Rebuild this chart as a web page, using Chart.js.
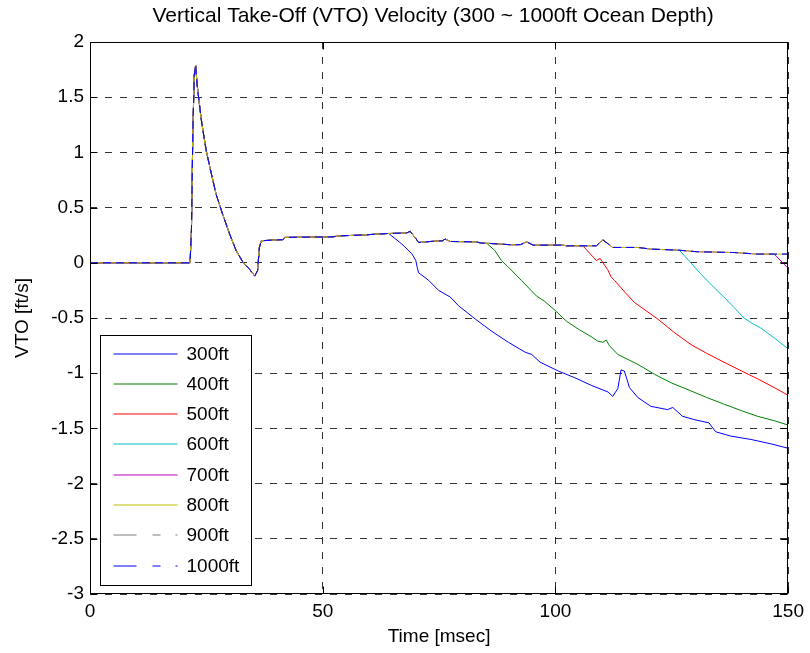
<!DOCTYPE html>
<html>
<head>
<meta charset="utf-8">
<title>VTO Velocity</title>
<script src="https://cdn.jsdelivr.net/npm/chart.js@4.4.1/dist/chart.umd.min.js"></script>
<style>
  html, body { margin: 0; padding: 0; background: #fff; }
  #wrap { width: 810px; height: 653px; }
</style>
</head>
<body>
<div id="wrap"><canvas id="vtoChart" width="810" height="653"></canvas></div>
<script>
// ─── DATA ─────────────────────────────────────────────────────
const chartTitle = 'Vertical Take-Off (VTO) Velocity (300 ~ 1000ft Ocean Depth)';
const xLabel = 'Time [msec]';
const yLabel = 'VTO [ft/s]';
const seriesNames = ['300ft', '400ft', '500ft', '600ft', '700ft', '800ft', '900ft', '1000ft'];

// common trace shared by every depth until it breaks away
const baseTime = [0, 21.5, 21.8, 22.1, 22.4, 22.7, 23.0, 23.3, 23.9, 24.3, 25.0, 26.0, 27.1, 28.5, 30.0, 31.4,
    32.8, 34.3, 35.4, 36.0, 36.4, 36.8, 41.4, 42.0, 52.0, 54.0, 57.8, 63.8, 68.0, 68.8, 70.0, 70.6, 73.1,
    75.8, 76.3, 77.4, 82.8, 84.2, 86.0, 90.6, 92.5, 93.8, 95.2, 101.6, 102.4, 108.8, 110.2, 112.3, 117.7,
    120.5, 126.3, 130.5, 138.4, 143.4, 150];
const baseVto = [0, 0, 0.3, 1.2, 1.70, 1.79, 1.62, 1.51, 1.30, 1.19, 1.01, 0.82, 0.62, 0.44, 0.26, 0.11,
    0.01, -0.06, -0.12, -0.07, 0.14, 0.20, 0.21, 0.23, 0.235, 0.245, 0.25, 0.265, 0.27, 0.285, 0.22, 0.184, 0.193,
    0.20, 0.215, 0.193, 0.19, 0.178, 0.175, 0.163, 0.165, 0.19, 0.16, 0.16, 0.154, 0.154, 0.208, 0.139, 0.139,
    0.124, 0.115, 0.10, 0.093, 0.079, 0.079];

// tails after each depth leaves the common trace
const tail300Time = [64.2, 67.0, 69.2, 70.0, 70.3, 70.6, 72.8, 74.9, 77.4, 79.2, 82.8, 86.3, 89.9, 93.5, 94.9,
    96.7, 100.6, 104.1, 107.7, 111.3, 112.3, 113.4, 114.1, 114.8, 115.4, 115.9, 117.7, 120.5, 124.1, 125.2,
    127.3, 129.8, 133.0, 134.4, 137.7, 142.0, 146.3, 150];
const tail300Vto = [0.265, 0.17, 0.08, 0.02, -0.04, -0.09, -0.16, -0.25, -0.31, -0.39, -0.51, -0.62, -0.72, -0.81, -0.83,
    -0.90, -0.98, -1.04, -1.11, -1.17, -1.21, -1.14, -0.97, -0.98, -1.06, -1.13, -1.22, -1.30, -1.33, -1.31,
    -1.39, -1.42, -1.45, -1.53, -1.57, -1.60, -1.64, -1.68];

const tail400Time = [85.2, 87.0, 88.4, 89.9, 92.7, 95.9, 97.7, 99.9, 102.4, 104.9, 107.7, 109.1, 110.2, 110.9,
    111.6, 113.4, 117.7, 121.3, 125.0, 129.1, 132.5, 136.2, 140.0, 143.4, 147.0, 150];
const tail400Vto = [0.178, 0.11, 0.02, -0.04, -0.16, -0.30, -0.35, -0.43, -0.53, -0.60, -0.67, -0.71, -0.72, -0.70,
    -0.75, -0.83, -0.92, -1.01, -1.09, -1.16, -1.22, -1.28, -1.34, -1.39, -1.43, -1.47];

const tail500Time = [105.9, 107.5, 108.8, 109.6, 110.2, 111.2, 112.0, 112.7, 115.0, 117.0, 122.0, 125.5, 129.1,
    132.5, 136.2, 140.0, 143.4, 147.0, 150];
const tail500Vto = [0.154, 0.08, 0.02, 0.04, 0.00, -0.06, -0.13, -0.16, -0.27, -0.36, -0.51, -0.63, -0.74,
    -0.82, -0.90, -0.98, -1.05, -1.13, -1.20];

const tail600Time = [126.6, 129.1, 131.2, 133.5, 136.2, 138.5, 140.5, 142.3, 144.1, 147.0, 150];
const tail600Vto = [0.115, 0.00, -0.10, -0.20, -0.31, -0.41, -0.50, -0.55, -0.59, -0.68, -0.78];

const tail700Time = [147.0, 150];
const tail700Vto = [0.079, -0.05];

const tails = [
    [tail300Time, tail300Vto],
    [tail400Time, tail400Vto],
    [tail500Time, tail500Vto],
    [tail600Time, tail600Vto],
    [tail700Time, tail700Vto],
    null, null, null
];

const xTicks = [0, 50, 100, 150];
const yTicks = [-3, -2.5, -2, -1.5, -1, -0.5, 0, 0.5, 1, 1.5, 2];

// ─── STYLES ───────────────────────────────────────────────────
const seriesColors = ['#0000ff', '#008000', '#ff0000', '#00bfbf', '#bf00bf', '#bfbf00', '#7f7f7f', '#0000ff'];
const seriesDash   = [[], [], [], [], [], [], [8, 5], [8, 5]];
const FONT = '"Liberation Sans", Arial, Helvetica, sans-serif';

function buildPoints(i) {
    const tail = tails[i];
    const cut = tail ? tail[0][0] : Infinity;
    const pts = [];
    baseTime.forEach((t, k) => { if (t < cut) pts.push({ x: t, y: baseVto[k] }); });
    if (tail) tail[0].forEach((t, k) => pts.push({ x: t, y: tail[1][k] }));
    return pts;
}

// ─── MATLAB-STYLE DECORATIONS (ticks in, box, legend, title) ─
const matlabLook = {
    id: 'matlabLook',
    afterDatasetsDraw(chart) {
        const { ctx, chartArea: a, scales: { x, y } } = chart;
        const L = Math.round(a.left) + 0.5, R = Math.round(a.right) - 0.5;
        const T = Math.round(a.top) + 0.5, B = Math.round(a.bottom) - 0.5;
        ctx.save();
        ctx.strokeStyle = '#000';
        ctx.lineWidth = 1;
        ctx.setLineDash([]);
        ctx.beginPath();
        x.ticks.forEach(t => {
            const p = Math.round(x.getPixelForValue(t.value)) + 0.5;
            ctx.moveTo(p, B); ctx.lineTo(p, B - 7);
            ctx.moveTo(p, T); ctx.lineTo(p, T + 7);
        });
        y.ticks.forEach(t => {
            const p = Math.round(y.getPixelForValue(t.value)) + 0.5;
            ctx.moveTo(L, p); ctx.lineTo(L + 7, p);
            ctx.moveTo(R, p); ctx.lineTo(R - 7, p);
        });
        ctx.stroke();
        ctx.strokeRect(L, T, R - L, B - T);

        // legend box, lower-left inside the axes
        const bx = L + 10, by = B - 258, bw = 151, bh = 250;
        ctx.fillStyle = '#fff';
        ctx.fillRect(bx, by, bw, bh);
        ctx.strokeRect(bx, by, bw, bh);
        ctx.font = '19px ' + FONT;
        ctx.textBaseline = 'middle';
        ctx.textAlign = 'left';
        chart.data.datasets.forEach((ds, i) => {
            const ly = Math.round(by + 18 + i * 30.3);
            ctx.strokeStyle = ds.borderColor;
            ctx.setLineDash(ds.borderDash && ds.borderDash.length ? [23, 16, 8, 15] : []);
            ctx.beginPath();
            ctx.moveTo(bx + 13, ly);
            ctx.lineTo(bx + 77, ly);
            ctx.stroke();
            ctx.fillStyle = '#000';
            ctx.fillText(ds.label, bx + 86, ly + 1);
        });

        // title, centred on the axes
        ctx.font = '21px ' + FONT;
        ctx.textAlign = 'center';
        ctx.fillStyle = '#000';
        ctx.fillText(chartTitle, (a.left + a.right) / 2 - 6, 16);
        ctx.restore();
    }
};

// ─── CHART ────────────────────────────────────────────────────
Chart.defaults.font.family = FONT;
Chart.defaults.color = '#000';

new Chart(document.getElementById('vtoChart'), {
    type: 'line',
    data: {
        datasets: seriesNames.map((name, i) => ({
            label: name,
            data: buildPoints(i),
            borderColor: seriesColors[i],
            borderDash: seriesDash[i],
            borderWidth: 1,
            pointRadius: 0,
            tension: 0,
            fill: false,
            order: seriesNames.length - i   // later depths drawn on top, like MATLAB
        }))
    },
    options: {
        responsive: false,
        animation: false,
        devicePixelRatio: 1,
        layout: { padding: { top: 42, right: 19, bottom: 0, left: 0 } },
        plugins: {
            legend: { display: false },
            title: { display: false },
            tooltip: { enabled: false }
        },
        scales: {
            x: {
                type: 'linear',
                min: xTicks[0],
                max: xTicks[xTicks.length - 1],
                afterBuildTicks: s => { s.ticks = xTicks.map(v => ({ value: v })); },
                afterFit: s => { s.height = 59; },
                ticks: { font: { size: 19 }, padding: 6, maxRotation: 0, callback: v => String(v) },
                grid: { drawTicks: false, color: 'rgba(0,0,0,0.8)', lineWidth: 1 },
                border: { display: false, dash: [7, 8] },
                title: { display: true, text: xLabel, font: { size: 19 }, padding: { top: 0, bottom: 5 } }
            },
            y: {
                type: 'linear',
                min: yTicks[0],
                max: yTicks[yTicks.length - 1],
                afterBuildTicks: s => { s.ticks = yTicks.map(v => ({ value: v })); },
                afterFit: s => { s.width = 90; },
                ticks: { font: { size: 19 }, padding: 6, callback: v => String(v) },
                grid: { drawTicks: false, color: 'rgba(0,0,0,0.8)', lineWidth: 1 },
                border: { display: false, dash: [7, 8] },
                title: { display: true, text: yLabel, font: { size: 19 }, padding: { top: 11, bottom: 0 } }
            }
        }
    },
    plugins: [matlabLook]
});
</script>
</body>
</html>
